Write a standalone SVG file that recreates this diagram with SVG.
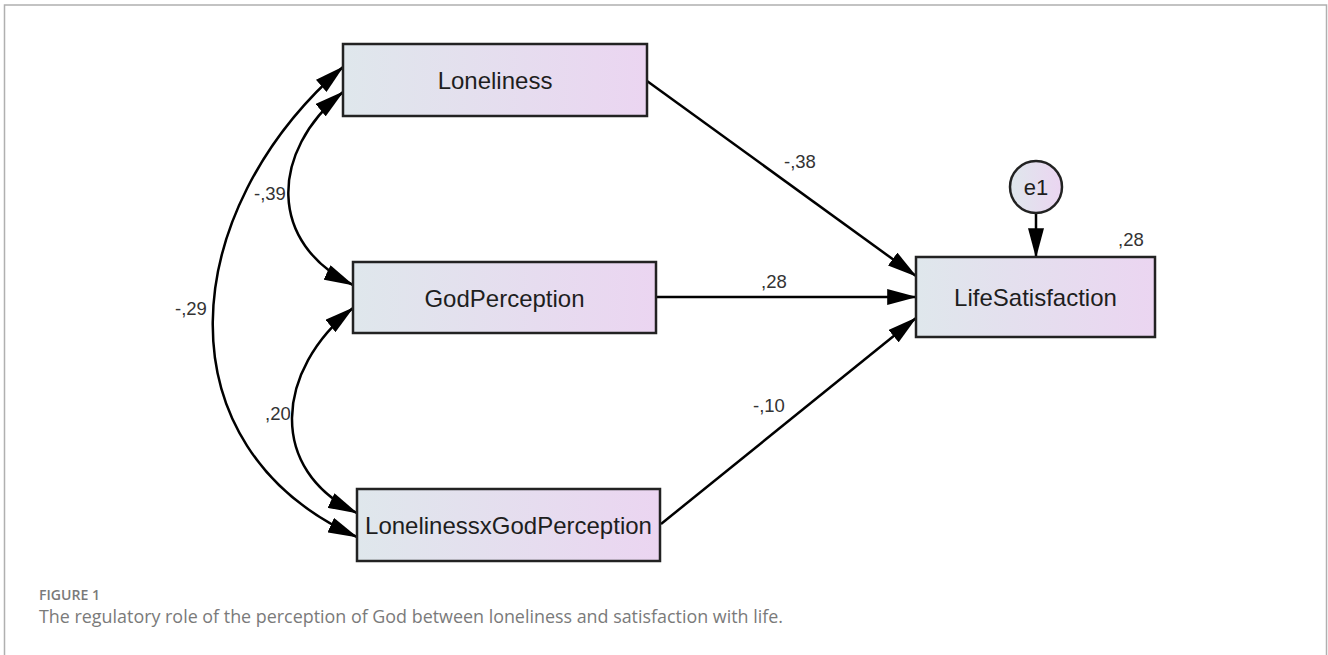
<svg xmlns="http://www.w3.org/2000/svg" width="1328" height="655" viewBox="0 0 1328 655">
  <defs>
    <linearGradient id="boxfill" x1="0" y1="0" x2="1" y2="0">
      <stop offset="0" stop-color="#dfe7ec"/>
      <stop offset="1" stop-color="#ebd5f1"/>
    </linearGradient>
    <marker id="arrow" markerUnits="userSpaceOnUse" markerWidth="30" markerHeight="16" viewBox="0 0 28 15" refX="27" refY="7.5" orient="auto-start-reverse">
      <path d="M0,0 L28,7.5 L0,15 z" fill="#000"/>
    </marker>
    <style>
      .box { fill: url(#boxfill); stroke: #222; stroke-width: 2.5; }
      .lbl { font-family: "Liberation Sans", Arial, sans-serif; font-size: 24px; fill: #1e1e1e; text-anchor: middle; }
      .num { font-family: "Liberation Sans", Arial, sans-serif; font-size: 18.5px; fill: #333; }
      .conn { fill: none; stroke: #000; stroke-width: 2.5; }
      .cap { font-family: "Open Sans", "Lato", sans-serif; fill: #7a7a7a; }
    </style>
  </defs>

  <rect id="frame" x="4.5" y="5" width="1322" height="670" fill="none" stroke="#b0b0b0" stroke-width="1.5"/>

  <g id="connectors">
    <path class="conn" d="M647,81 L916,276" marker-end="url(#arrow)"/>
    <path class="conn" d="M656,297 L916,297" marker-end="url(#arrow)"/>
    <path class="conn" d="M661,524 L916,318" marker-end="url(#arrow)"/>
    <path class="conn" d="M1036,213 L1036,257" marker-end="url(#arrow)"/>
    <path class="conn" d="M343,67 C177,211 157,447 357,537" marker-start="url(#arrow)" marker-end="url(#arrow)"/>
    <path class="conn" d="M343,92 C269,152 268,244 353,285" marker-start="url(#arrow)" marker-end="url(#arrow)"/>
    <path class="conn" d="M353,308 C275,370 267,470 357,513" marker-start="url(#arrow)" marker-end="url(#arrow)"/>
  </g>

  <g id="labels">
    <text class="num" x="784" y="168">-,38</text>
    <text class="num" x="761" y="288">,28</text>
    <text class="num" x="753" y="412">-,10</text>
    <text class="num" x="254" y="200">-,39</text>
    <text class="num" x="175" y="315">-,29</text>
    <text class="num" x="265" y="420">,20</text>
    <text class="num" x="1118" y="246">,28</text>
  </g>

  <g id="node-loneliness">
    <rect class="box" x="343" y="44" width="304" height="72"/>
    <text class="lbl" x="495" y="89">Loneliness</text>
  </g>
  <g id="node-godperception">
    <rect class="box" x="353" y="262" width="303" height="71"/>
    <text class="lbl" x="504.5" y="306.5">GodPerception</text>
  </g>
  <g id="node-interaction">
    <rect class="box" x="357" y="489" width="303" height="72"/>
    <text class="lbl" x="508.5" y="533.5">LonelinessxGodPerception</text>
  </g>
  <g id="node-lifesatisfaction">
    <rect class="box" x="916" y="257" width="239" height="80"/>
    <text class="lbl" x="1035.5" y="306">LifeSatisfaction</text>
  </g>
  <g id="node-e1">
    <circle class="box" cx="1036" cy="187" r="26"/>
    <text class="lbl" x="1036" y="195" style="font-size:22px">e1</text>
  </g>

  <g id="caption">
    <text class="cap" x="39" y="600" font-size="15" font-weight="600" textLength="61" lengthAdjust="spacingAndGlyphs">FIGURE 1</text>
    <text class="cap" x="39" y="623" font-size="18.5" textLength="744" lengthAdjust="spacingAndGlyphs">The regulatory role of the perception of God between loneliness and satisfaction with life.</text>
  </g>
</svg>
